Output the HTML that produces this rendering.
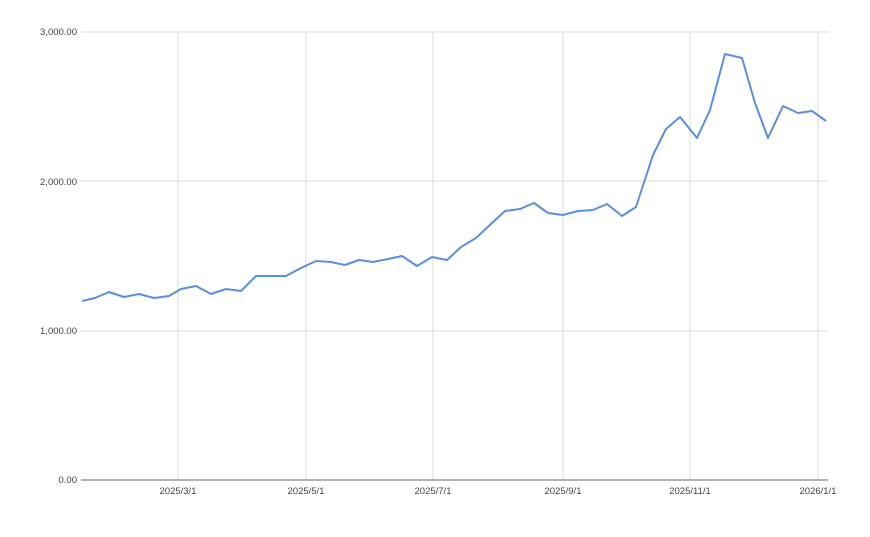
<!DOCTYPE html>
<html><head><meta charset="utf-8"><style>
body{margin:0;background:#fff;}
svg{display:block;font-family:"Liberation Sans",sans-serif;}
</style></head><body>
<svg width="870" height="537" viewBox="0 0 870 537">
<g stroke="#e0e0e0" stroke-width="1.2">
<line x1="81" y1="32" x2="828" y2="32"/>
<line x1="81" y1="181" x2="828" y2="181"/>
<line x1="81" y1="331" x2="828" y2="331"/>
<line x1="178" y1="32" x2="178" y2="480"/>
<line x1="306" y1="32" x2="306" y2="480"/>
<line x1="433" y1="32" x2="433" y2="480"/>
<line x1="563" y1="32" x2="563" y2="480"/>
<line x1="690" y1="32" x2="690" y2="480"/>
<line x1="818" y1="32" x2="818" y2="480"/>
</g>
<line x1="81" y1="480" x2="828" y2="480" stroke="#666" stroke-width="1"/>
<g font-size="9.5" fill="#444" text-anchor="end">
<text x="77" y="35">3,000.00</text>
<text x="77" y="185">2,000.00</text>
<text x="77" y="334">1,000.00</text>
<text x="77" y="483">0.00</text>
</g>
<g font-size="9.5" fill="#444" text-anchor="middle">
<text x="178" y="494">2025/3/1</text>
<text x="306" y="494">2025/5/1</text>
<text x="433" y="494">2025/7/1</text>
<text x="563" y="494">2025/9/1</text>
<text x="690" y="494">2025/11/1</text>
<text x="818" y="494">2026/1/1</text>
</g>
<polyline fill="none" stroke="#5b8fdb" stroke-width="2" stroke-linejoin="round" points="82,301 95,298 109,292 124,297 139,294 154,298 169,296 181,289 196,286 211,294 226,289 241,291 256,276 271,276 286,276 301,268 316,261 331,262 345,265 359,260 373,262 388,259 402,256 417,266 432,257 447,260 461,247 476,238 491,224 505,211 520,209 534,203 548,213 563,215 578,211 593,210 607,204 622,216 636,207 653,155 666,129 680,117 697,138 710,110 725,54 742,58 755,103 768,138 783,106 798,113 812,111 826,121"/>
</svg>
</body></html>
